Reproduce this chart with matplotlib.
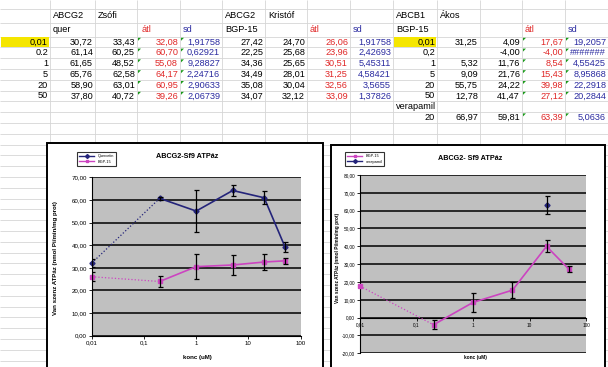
import numpy as np
import matplotlib
matplotlib.use('Agg')
import matplotlib.pyplot as plt
from matplotlib.patches import Rectangle, Polygon
from matplotlib.lines import Line2D

plt.rcParams['font.family'] = ['Liberation Sans', 'DejaVu Sans']

W, H = 608, 367

# ---- spreadsheet contents (strings as shown in the cells) ----
conc_g2_txt = ['0,01', '0.2', '1', '5', '20', '50']
quer_a = ['30,72', '61,14', '61,65', '65,76', '58,90', '37,80']
quer_b = ['33,43', '60,25', '48,52', '62,58', '63,01', '40,72']
quer_atl = ['32,08', '60,70', '55,08', '64,17', '60,95', '39,26']
quer_sd_txt = ['1,91758', '0,62921', '9,28827', '2,24716', '2,90633', '2,06739']
bgp_a = ['27,42', '22,25', '34,36', '34,49', '35,08', '34,07']
bgp_b = ['24,70', '25,68', '25,65', '28,01', '30,04', '32,12']
bgp_atl = ['26,06', '23,96', '30,51', '31,25', '32,56', '33,09']
bgp_sd_txt = ['1,91758', '2,42693', '5,45311', '4,58421', '3,5655', '1,37826']
conc_b1_txt = ['0,01', '0,2', '1', '5', '20', '50', 'verapamil', '20']
b1_a = ['31,25', '', '5,32', '9,09', '55,75', '12,78', '', '66,97']
b1_b = ['4,09', '-4,00', '11,76', '21,76', '24,22', '41,47', '', '59,81']
b1_atl = ['17,67', '-4,00', '8,54', '15,43', '39,98', '27,12', '', '63,39']
b1_sd_txt = ['19,2057', '#######', '4,55425', '8,95868', '22,2918', '20,2844', '', '5,0636']

# ---- chart data ----
conc = [0.01, 0.2, 1, 5, 20, 50]
quer_mean = [32.08, 60.70, 55.08, 64.17, 60.95, 39.26]
quer_sd = [1.91758, 0.62921, 9.28827, 2.24716, 2.90633, 2.06739]
bgp_g2_mean = [26.06, 23.96, 30.51, 31.25, 32.56, 33.09]
bgp_g2_sd = [1.91758, 2.42693, 5.45311, 4.58421, 3.5655, 1.37826]
bgp_b1_mean = [17.67, -4.00, 8.54, 15.43, 39.98, 27.12]
bgp_b1_err = [0, 2.5, 5.5, 4.5, 3.4, 1.6]
vera_conc = [20]
vera_mean = [63.39]
vera_sd = [5.0636]

NAVY = '#24247a'
MAG = '#cc44c0'
RED = '#e02828'
BLUE = '#2b2ba0'

fig = plt.figure(figsize=(W / 100, H / 100), dpi=100)
bg = fig.add_axes([0, 0, 1, 1])
bg.set_xlim(0, W)
bg.set_ylim(H, 0)
bg.axis('off')

# spreadsheet grid
col_edges = [0, 50, 95, 137, 180, 222, 265, 307, 350, 393, 437, 480, 522, 565, 608]
row_centers = [16, 29] + [42 + 10.8 * i for i in range(8)]
row_edges = [9, 22.5, 36.6] + [47.4 + 10.8 * i for i in range(30)]
bg.vlines(col_edges[1:-1], 0, H, color='#d6d6d6', lw=0.6, zorder=0)
bg.hlines([y for y in row_edges if y < H], 0, W, color='#d6d6d6', lw=0.6, zorder=0)

# yellow highlighted cells
for c in (0, 9):
    bg.add_patch(Rectangle((col_edges[c] + 1, row_edges[2] + 0.5),
                           col_edges[c + 1] - col_edges[c] - 2, row_edges[3] - row_edges[2] - 1,
                           fc='#f5e600', ec='none', zorder=0.5))

FS = 6.6


def cell(col, row, txt, color='black', left=False, pad=3):
    if txt == '':
        return
    y = row_centers[row]
    if left:
        bg.text(col_edges[col] + pad, y, txt, ha='left', va='center', fontsize=FS, color=color)
    else:
        bg.text(col_edges[col + 1] - 2, y, txt, ha='right', va='center', fontsize=FS, color=color)


def flag(col, row):
    x = col_edges[col] + 1
    y = row_edges[row] + 1.2
    bg.add_patch(Polygon([[x, y], [x + 3, y], [x, y + 3]], closed=True, fc='#1a9a1a', ec='none', zorder=1))


# headers
for col, txt in [(1, 'ABCG2'), (2, 'Zsófi'), (5, 'ABCG2'), (6, 'Kristóf'), (9, 'ABCB1'), (10, 'Ákos')]:
    cell(col, 0, txt, left=True)
for col, txt, colr in [(1, 'quer', 'black'), (4, 'sd', BLUE), (5, 'BGP-15', 'black'),
                       (7, 'átl', RED), (8, 'sd', BLUE), (9, 'BGP-15', 'black'), (12, 'átl', RED), (13, 'sd', BLUE)]:
    cell(col, 1, txt, colr, left=True)
cell(3, 1, 'átl', RED, left=True, pad=5)

for i in range(6):
    r = i + 2
    cell(0, r, conc_g2_txt[i])
    cell(1, r, quer_a[i])
    cell(2, r, quer_b[i])
    cell(3, r, quer_atl[i], RED)
    cell(4, r, quer_sd_txt[i], BLUE)
    cell(5, r, bgp_a[i])
    cell(6, r, bgp_b[i])
    cell(7, r, bgp_atl[i], RED)
    cell(8, r, bgp_sd_txt[i], BLUE)
    flag(3, r)
    flag(4, r)
for i in range(8):
    r = i + 2
    cell(9, r, conc_b1_txt[i], left=(conc_b1_txt[i] == 'verapamil'))
    cell(10, r, b1_a[i])
    cell(11, r, b1_b[i])
    cell(12, r, b1_atl[i], RED)
    cell(13, r, b1_sd_txt[i], BLUE)
    if b1_atl[i]:
        flag(12, r)
        flag(13, r)

# chart frames
bg.add_patch(Rectangle((47, 143), 276, 240, fc='white', ec='black', lw=1.4, zorder=2))
bg.add_patch(Rectangle((331, 145), 274, 240, fc='white', ec='black', lw=1.4, zorder=2))

bg.text(187, 157, 'ABCG2-Sf9 ATPáz', ha='center', va='center', fontsize=5.2, fontweight='bold', zorder=3)
bg.text(470, 158, 'ABCG2- Sf9 ATPáz', ha='center', va='center', fontsize=5.2, fontweight='bold', zorder=3)
bg.text(55, 258, 'Van szenz ATPáz (nmol Pi/min/mg prot)', rotation=90, ha='center', va='center',
        fontsize=4.4, fontweight='bold', zorder=3)
bg.text(338, 258, 'Van szenz ATPáz (nmol Pi/min/mg prot)', rotation=90, ha='center', va='center',
        fontsize=3.4, fontweight='bold', zorder=3)
bg.text(197, 358, 'konc (uM)', ha='center', va='center', fontsize=4.4, fontweight='bold', zorder=3)
bg.text(475, 357, 'konc (uM)', ha='center', va='center', fontsize=3.4, fontweight='bold', zorder=3)


def fax(x0, x1, y0, y1):
    return fig.add_axes([x0 / W, 1 - y1 / H, (x1 - x0) / W, (y1 - y0) / H])


def style(ax, ymin, ymax, fs):
    ax.set_facecolor('#c0c0c0')
    ax.set_xscale('log')
    ax.set_xlim(0.01, 100)
    ax.set_ylim(ymin, ymax)
    yt = np.arange(ymin, ymax + 1, 10)
    ax.set_yticks(yt)
    ax.set_yticklabels([f'{v:.2f}'.replace('.', ',') for v in yt], fontsize=fs)
    ax.set_xticks([0.01, 0.1, 1, 10, 100])
    ax.set_xticklabels(['0,01', '0,1', '1', '10', '100'], fontsize=fs)
    ax.xaxis.set_minor_locator(matplotlib.ticker.NullLocator())
    ax.grid(axis='y', color='black', lw=1.1)
    ax.set_axisbelow(True)
    for s in ('top', 'right'):
        ax.spines[s].set_visible(False)
    for s in ('left', 'bottom'):
        ax.spines[s].set_color('black')
        ax.spines[s].set_linewidth(0.8)
    ax.tick_params(length=2, width=0.6, pad=1.5)


def series(ax, x, y, err, color, marker, ms):
    ax.plot(x[:2], y[:2], ls=':', lw=0.9, color=color, zorder=3)
    ax.plot(x[1:], y[1:], ls='-', lw=1.2, color=color, zorder=3)
    ax.plot(x, y, ls='none', marker=marker, ms=ms, color=color, zorder=4, clip_on=False)
    x = np.array(x)
    y = np.array(y)
    e = np.array(err)
    m = e > 0
    ax.errorbar(x[m], y[m], yerr=e[m], fmt='none', ecolor='black', elinewidth=0.9, capsize=1.8,
                capthick=0.9, zorder=5)


# left chart
ax1 = fax(91.7, 300.7, 177.3, 335.7)
style(ax1, 0, 70, 4.4)
series(ax1, conc, quer_mean, quer_sd, NAVY, 'D', 2.6)
series(ax1, conc, bgp_g2_mean, bgp_g2_sd, MAG, 's', 2.8)
h1 = [Line2D([], [], color=NAVY, marker='D', ms=2, lw=1), Line2D([], [], color=MAG, marker='s', ms=2, lw=1)]
leg1 = ax1.legend(h1, ['Quercetin', 'BGP-15'], loc='upper left', bbox_to_anchor=(75 / W, 1 - 150 / H),
                  bbox_transform=fig.transFigure, fontsize=2.8, frameon=True, fancybox=False,
                  edgecolor='black', handlelength=4, borderpad=0.5, labelspacing=0.5)
leg1.get_frame().set_linewidth(0.8)

# right chart
ax2 = fax(360, 586, 175, 353.3)
ax2.spines['bottom'].set_position(('data', 0))
style(ax2, -20, 80, 3.4)
series(ax2, conc, bgp_b1_mean, bgp_b1_err, MAG, 's', 3.2)
ax2.plot(vera_conc, vera_mean, ls='none', marker='D', ms=2.6, color=NAVY, zorder=4)
ax2.errorbar(vera_conc, vera_mean, yerr=vera_sd, fmt='none', ecolor='black', elinewidth=0.9,
             capsize=1.8, capthick=0.9, zorder=5)
h2 = [Line2D([], [], color=MAG, marker='s', ms=2, lw=1), Line2D([], [], color=NAVY, marker='D', ms=2, lw=1)]
leg2 = ax2.legend(h2, ['BGP-15', 'verapamil'], loc='upper left', bbox_to_anchor=(343 / W, 1 - 150 / H),
                  bbox_transform=fig.transFigure, fontsize=2.8, frameon=True, fancybox=False,
                  edgecolor='black', handlelength=4, borderpad=0.5, labelspacing=0.5)
leg2.get_frame().set_linewidth(0.8)

fig.savefig('out.png', dpi=100)
